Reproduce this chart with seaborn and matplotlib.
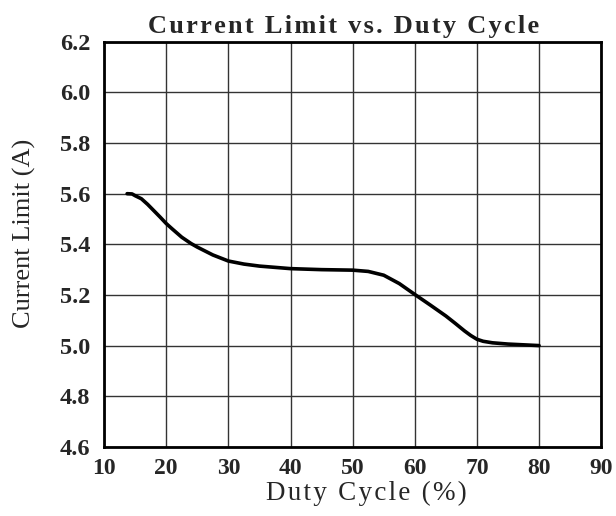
import pandas as pd
import seaborn as sns
import matplotlib.pyplot as plt

sns.set_theme(style="whitegrid")
plt.rcParams['font.family'] = ['Liberation Serif', 'DejaVu Serif']

# curve
duty = [13.7, 14.5, 15, 16, 17, 18, 19, 20, 21, 22.5, 24, 25, 27.5, 30, 32.5, 35, 40, 45, 50,
        52.5, 55, 57.5, 60, 62.5, 65, 66.5, 68, 69, 70, 71, 72.5, 75, 77.5, 80]
ilim = [5.60, 5.599, 5.592, 5.58, 5.558, 5.533, 5.508, 5.482, 5.46, 5.428, 5.403, 5.389, 5.358,
        5.334, 5.322, 5.314, 5.304, 5.30, 5.298, 5.293, 5.278, 5.245, 5.202, 5.16, 5.117,
        5.088, 5.058, 5.04, 5.025, 5.017, 5.011, 5.006, 5.003, 5.0]
xticks = [10, 20, 30, 40, 50, 60, 70, 80, 90]
yticks = [4.6, 4.8, 5.0, 5.2, 5.4, 5.6, 5.8, 6.0, 6.2]

data = pd.DataFrame({'DUTY': duty, 'ILIM': ilim})

# spaced-out lettering like the datasheet
def spaced(s):
    return '\u200a'.join(s)

fig = plt.figure(figsize=(6.16, 5.16), dpi=100)
ax = fig.add_axes([0.169, 0.134, 0.807, 0.785])
sns.lineplot(data=data, x='DUTY', y='ILIM', ax=ax, color='black', linewidth=2.6)

ax.set_xlim(10, 90)
ax.set_ylim(4.6, 6.2)
ax.set_xticks(xticks)
ax.set_yticks(yticks)
ax.set_xticklabels([str(t) for t in xticks], fontsize=17, fontweight='bold')
ax.set_yticklabels(['%.1f' % t for t in yticks], fontsize=17.5, fontweight='bold')
ax.tick_params(axis='x', length=0, pad=8)
ax.tick_params(axis='y', length=0, pad=10)
ax.grid(True, color='#333333', linewidth=1)
for s in ax.spines.values():
    s.set_color('black')
    s.set_linewidth(2)
ax.set_xlabel(spaced('Duty Cycle (%)'), fontsize=19.5)
ax.xaxis.set_label_coords(0.527, -0.084)
ax.set_ylabel('Current Limit (A)', fontsize=19)
ax.yaxis.set_label_coords(-0.137, 0.526)
ax.set_title(spaced('Current Limit vs. Duty Cycle'), fontsize=19, fontweight='bold', x=0.481, pad=6)

plt.savefig("out.png")
